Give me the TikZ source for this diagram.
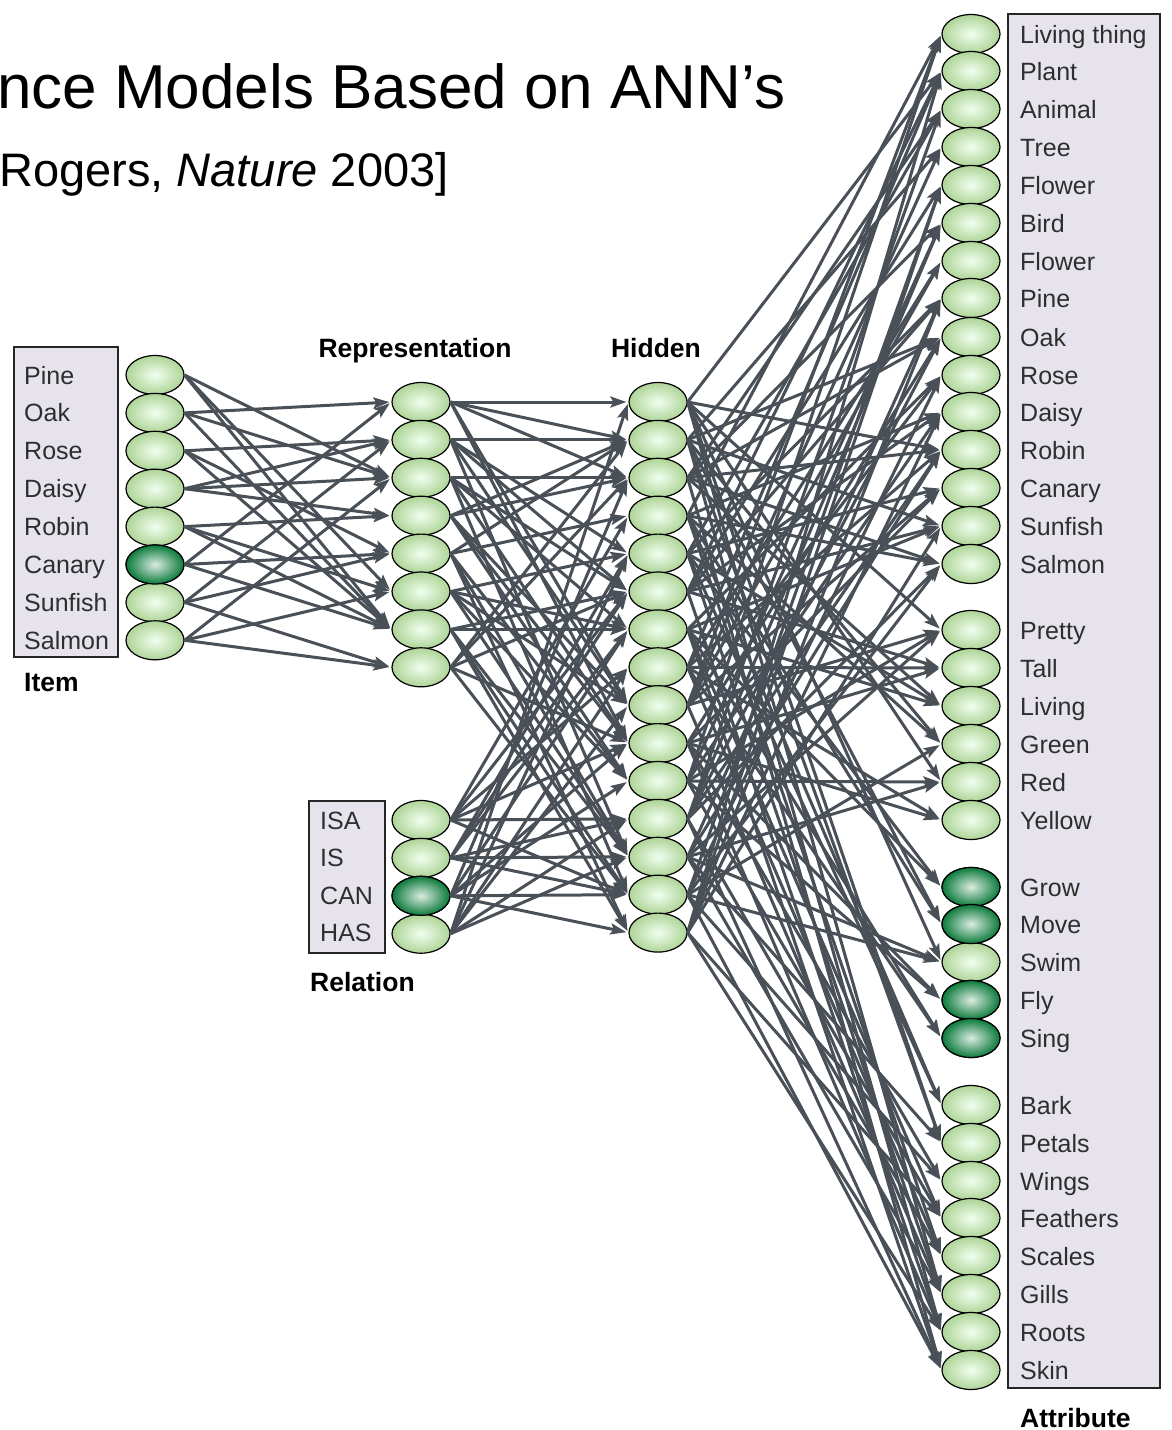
\documentclass[tikz,border=0pt]{standalone}
\usepackage{fontspec}
\setmainfont{Liberation Sans}
\usetikzlibrary{arrows.meta,shapes.geometric}
\definecolor{linkgray}{HTML}{4A5058}
\definecolor{boxfill}{HTML}{E7E3EC}
\definecolor{unitlight}{HTML}{AED497}
\definecolor{unitdark}{HTML}{0B7A3B}
\definecolor{labelgray}{HTML}{2E2E2E}

\newcommand{\netlink}[2]{\draw[link] (#1.east) -- (#2.west);}
\newcommand{\unitcolumn}[4]{\foreach \n in {1,...,#4}
        \node[unit] (#1\n) at (#2,{#3+(\n-1)*37.9}){};
    }

\begin{document}
\begin{tikzpicture}
                [x=1pt, y=-1pt,
                unit/.style={ellipse, draw=black, line width=1.2pt, minimum width=58pt, minimum height=39pt, inner sep=0pt,
                    shading=radial, inner color=white!94!green, outer color=unitlight},
                active/.style={unit, inner color=white!85!unitdark, outer color=unitdark},
                listbox/.style={fill=boxfill, draw=black!85, line width=1.4pt},
                lab/.style={font=\fontsize{25}{30}\selectfont, text=labelgray, inner sep=0pt, anchor=base west},
                heading/.style={font=\fontsize{26.5}{32}\selectfont\bfseries, inner sep=0pt, anchor=base west},
                link/.style={draw=linkgray, line width=3pt, -{Stealth[length=16pt, width=11pt, inset=3pt]}, shorten >=2pt},
                ]
                \useasboundingbox (0,0) rectangle (1171,1430);
                % title
                \node[font=\fontsize{62}{70}\selectfont, inner sep=0pt, anchor=base west] (title) at (-3,108) {nce Models Based on ANN’s};
                \node[font=\fontsize{47}{56}\selectfont, inner sep=0pt, anchor=base west] (subtitle) at (-1,186) {Rogers, \textit{Nature} 2003]};
                % label boxes
                \draw[listbox] (14,347) rectangle (118,657);
                \draw[listbox] (309,801) rectangle (385,953);
                \draw[listbox] (1008,14) rectangle (1160,1388);
                % item layer
                \unitcolumn{item}{155}{375}{8}
                \node[active] (item6) at (155,{375+5*37.9}){};
                \foreach \n/\lab in {1/Pine,2/Oak,3/Rose,4/Daisy,5/Robin,6/Canary,7/Sunfish,8/Salmon}
                    \node[lab] (itemlab\n) at (24,{384+(\n-1)*37.9}) {\lab};
                \node[heading] (itemhead) at (24,691) {Item};
                % relation layer
                \unitcolumn{rel}{421}{820}{4}
                \node[active] (rel3) at (421,{820+2*37.9}){};
                \foreach \n/\lab in {1/ISA,2/IS,3/CAN,4/HAS}
                    \node[lab] (rellab\n) at (320,{829+(\n-1)*37.6}) {\lab};
                \node[heading] (relhead) at (310,991) {Relation};
                % representation and hidden layers
                \unitcolumn{rep}{421}{402}{8}
                \unitcolumn{hid}{658}{402}{15}
                \node[heading, anchor=base] (rephead) at (415,357) {Representation};
                \node[heading, anchor=base] (hidhead) at (656,357) {Hidden};
                % attribute layer
                \foreach \n/\y/\lab in {1/34/Living thing,2/71/Plant,3/109/Animal,4/147/Tree,5/185/Flower,6/223/Bird,
                        7/261/Flower,8/298/Pine,9/337/Oak,10/375/Rose,11/412/Daisy,12/450/Robin,13/488/Canary,
                        14/526/Sunfish,15/564/Salmon,16/630/Pretty,17/668/Tall,18/706/Living,19/744/Green,
                        20/782/Red,21/820/Yellow,22/887/Grow,23/924/Move,24/962/Swim,25/1000/Fly,26/1038/Sing,
                        27/1105/Bark,28/1143/Petals,29/1181/Wings,30/1218/Feathers,31/1256/Scales,32/1294/Gills,
                        33/1332/Roots,34/1370/Skin}{
                    \node[unit] (att\n) at (971,\y){};
                    \node[lab] (attlab\n) at (1020,\y+9) {\lab};
                }
                \foreach \n in {22,23,25,26}
                    \node[active] (att\n) at (att\n){};
                \node[heading] (atthead) at (1020,1427) {Attribute};
                % item -> representation
                \foreach \s/\d in {1/3,1/6,1/7, 2/1,2/3,2/7, 3/2,3/5,3/7, 4/2,4/3,4/4,
                        5/4,5/6,5/7, 6/1,6/5,6/7, 7/2,7/5,7/8, 8/3,8/6,8/8}{
                    \netlink{item\s}{rep\d}
                }
                % representation -> hidden
                \foreach \r in {1,...,8}{\foreach \k in {0,...,4}{
                    \pgfmathtruncatemacro\d{mod(2*\r+\k*{7,4,11,8,2,13,7,4}[\r-1],15)+1}
                    \netlink{rep\r}{hid\d}
                }}
                % relation -> hidden
                \foreach \q in {1,...,4}{\foreach \k in {0,...,5}{
                    \pgfmathtruncatemacro\d{mod(3*\q+\k*{2,7,4,11}[\q-1],15)+1}
                    \netlink{rel\q}{hid\d}
                }}
                % hidden -> attribute
                \foreach \h in {1,...,15}{\foreach \k in {0,...,6}{
                    \pgfmathtruncatemacro\d{mod(11*\h+\k*(mod(\h,3)+3),34)+1}
                    \netlink{hid\h}{att\d}
                }}
            \end{tikzpicture}
\end{document}
